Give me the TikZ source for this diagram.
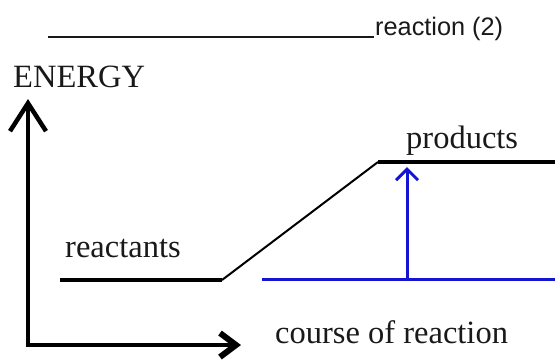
\documentclass[tikz,border=0pt]{standalone}
\usepackage{fontspec}
\setmainfont{Liberation Serif}
\newfontfamily\arialfont{Liberation Sans}
\usetikzlibrary{arrows.meta}
\definecolor{lineblue}{RGB}{20,20,210}
\definecolor{ink}{RGB}{25,25,25}
\begin{document}
\begin{tikzpicture}[x=1pt,y=-1pt,
  lbl/.style={inner sep=0pt,anchor=base west,text=ink,font=\fontsize{32.5}{36}\selectfont},
  sanslbl/.style={inner sep=0pt,anchor=base west,text=ink,font=\arialfont\fontsize{25.3}{28}\selectfont},
  axis/.style={draw=black,line width=4.5pt},
  level/.style={draw=black,line width=3.5pt},
  slope/.style={draw=black,line width=2pt},
  bluel/.style={draw=lineblue,line width=3pt}]
\useasboundingbox (0,0) rectangle (555,360);
% title blank
\coordinate (b1) at (48,37);
\coordinate (b2) at (374,37);
\draw[ink,line width=1.5pt] (b1) -- (b2);
\node[sanslbl] (title) at (375,35.5) {reaction (2)};
% axis labels
\node[lbl] (energy) at (13,87) {ENERGY};
\node[lbl] (course) at (275,343) {course of reaction};
\node[lbl] (react) at (65,257) {reactants};
\node[lbl] (prod) at (406,148) {products};
% axes
\coordinate (origin) at (28,345);
\coordinate (ytop) at (28,99);
\coordinate (xend) at (241,345);
\draw[axis,{Straight Barb[length=28pt,width=36pt,line width=4.5pt]}-{Straight Barb[length=16pt,width=24pt,line width=6pt]},line join=miter] (ytop) |- (xend);
% energy profile
\coordinate (r1) at (60,280);
\coordinate (r2) at (222,280);
\coordinate (p1) at (378,162);
\coordinate (p2) at (555,162);
\draw[level] (r1) -- (r2);
\draw[slope] (r2) -- (p1);
\draw[level] (p1) -- (p2);
% blue reference and arrow
\coordinate (bl1) at (262,279);
\coordinate (bl2) at (555,279);
\coordinate (ba) at (407,279);
\coordinate (bt) at (407,167);
\draw[bluel] (bl1) -- (bl2);
\draw[bluel,-{Straight Barb[length=11pt,width=22pt,line width=3pt]}] (ba) -- (bt);
\end{tikzpicture}
\end{document}
